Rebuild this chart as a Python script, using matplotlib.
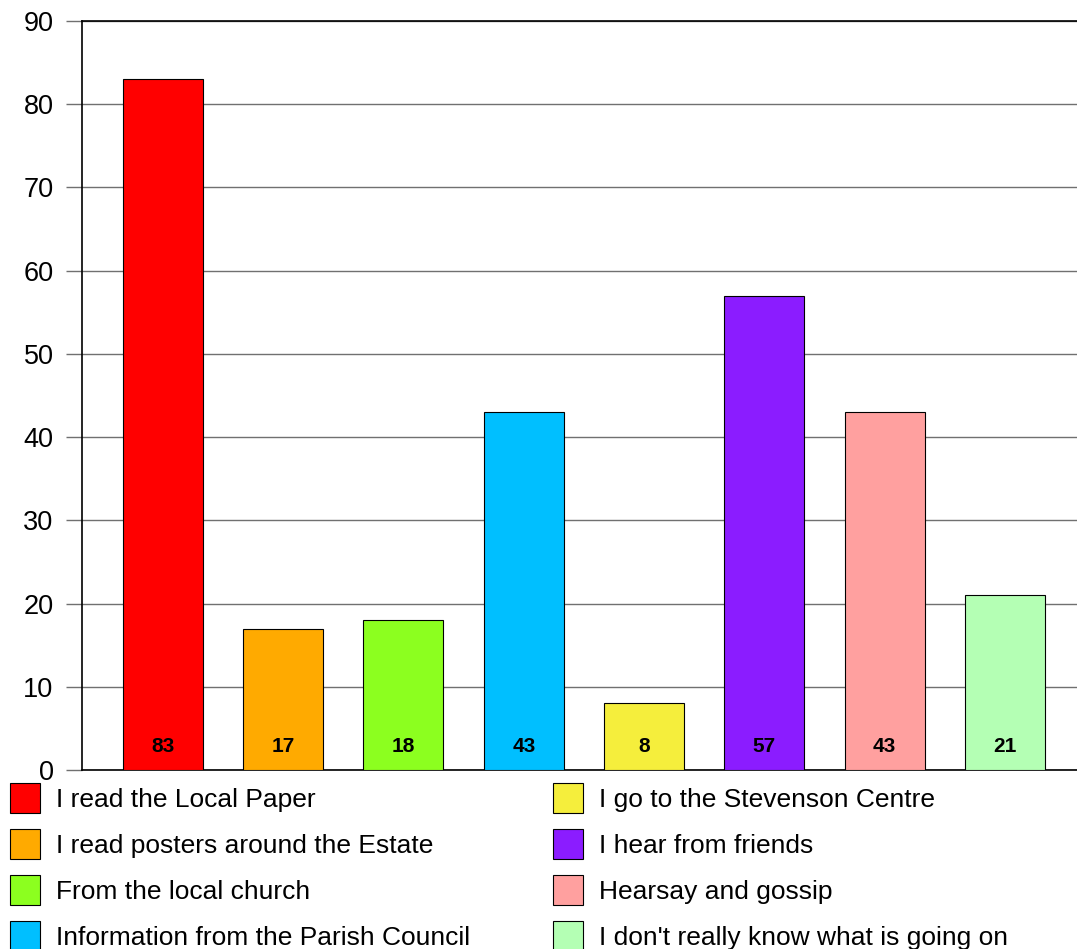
import matplotlib.pyplot as plt
from matplotlib.patches import Rectangle

plt.rcParams['font.family'] = ['Liberation Sans', 'DejaVu Sans']

# data
categories = [
    "I read the Local Paper",
    "I read posters around the Estate",
    "From the local church",
    "Information from the Parish Council",
    "I go to the Stevenson Centre",
    "I hear from friends",
    "Hearsay and gossip",
    "I don't really know what is going on",
]
values = [83, 17, 18, 43, 8, 57, 43, 21]
colors = ["#ff0000", "#ffaa00", "#8cff1f", "#00bfff",
          "#f5ee3c", "#8b1cff", "#ffa09f", "#b4ffb4"]
y_ticks = [0, 10, 20, 30, 40, 50, 60, 70, 80, 90]

W, H = 1077, 949
fig = plt.figure(figsize=(W / 100, H / 100), dpi=100)
ax = fig.add_axes([82 / W, (H - 770) / H, (W - 82) / W, (770 - 21) / H])

x = range(len(values))
ax.bar(x, values, width=0.665, color=colors, edgecolor="black", linewidth=0.8, zorder=3)
for i, v in enumerate(values):
    ax.text(i, 2.8, str(v), ha="center", va="center", fontsize=15, fontweight="bold", zorder=4)

ax.set_xlim(-0.673, 7.6)
ax.set_ylim(0, 90)
ax.set_yticks(y_ticks)
ax.set_yticklabels([str(t) for t in y_ticks], fontsize=19.5)
ax.set_xticks([])
ax.yaxis.grid(True, color="#707070", linewidth=1.0, zorder=0)
ax.tick_params(axis="y", length=11.5, width=1.0, color="#707070", pad=9)
ax.spines["right"].set_visible(False)
for s in ("left", "bottom", "top"):
    ax.spines[s].set_linewidth(1.2)
    ax.spines[s].set_color("black")

# legend in two columns below the plot, drawn in pixel positions
for i, (name, col) in enumerate(zip(categories, colors)):
    column, row = divmod(i, 4)
    left = 10 if column == 0 else 553
    yc = 798 + row * 46
    fig.add_artist(Rectangle((left / W, (H - yc - 15) / H), 30 / W, 30 / H,
                             transform=fig.transFigure, facecolor=col,
                             edgecolor="black", linewidth=0.8))
    fig.text((left + 46) / W, (H - yc - 2) / H, name, fontsize=19, va="center", ha="left")

fig.savefig("out.png", dpi=100)
